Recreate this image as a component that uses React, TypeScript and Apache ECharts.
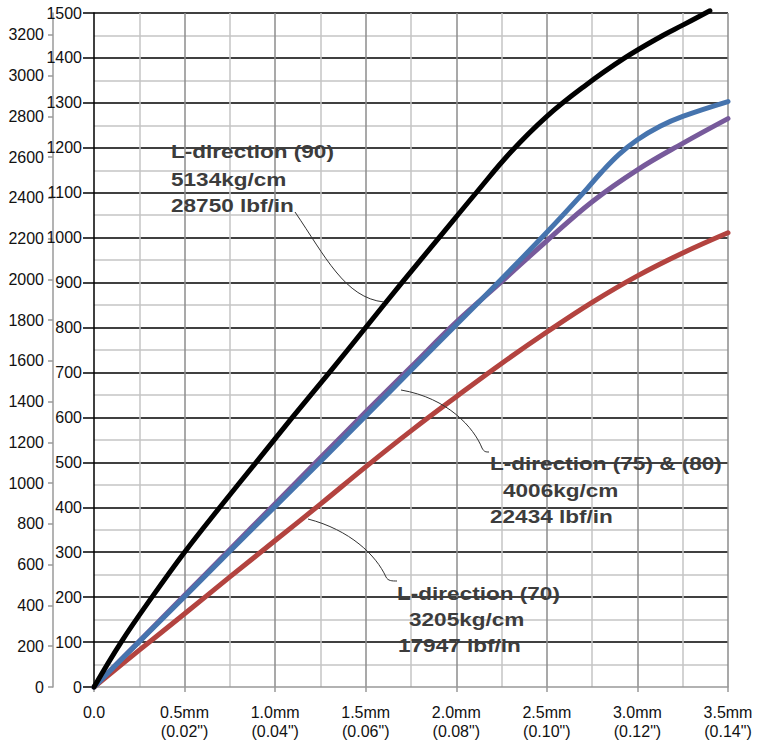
import React, { useEffect, useRef } from 'react';
import * as echarts from 'echarts';

// ---- data ----
const xMaxMm = 3.5;
const kgMax = 1500;
const lbPerKg = 2.20462;

const xTickMm = [0, 0.5, 1.0, 1.5, 2.0, 2.5, 3.0, 3.5];
const xTickLabels = ['0.0', '0.5mm\n(0.02")', '1.0mm\n(0.04")', '1.5mm\n(0.06")', '2.0mm\n(0.08")', '2.5mm\n(0.10")', '3.0mm\n(0.12")', '3.5mm\n(0.14")'];
const lbTicks = [0, 200, 400, 600, 800, 1000, 1200, 1400, 1600, 1800, 2000, 2200, 2400, 2600, 2800, 3000, 3200];

const l90Mm = [0, 0.15, 0.32, 0.5, 0.695, 0.895, 1.095, 1.30, 1.50, 1.70, 1.905, 2.11, 2.30, 2.50, 2.70, 2.93, 3.14, 3.25, 3.40];
const l90Kg = [0, 100, 200, 300, 400, 500, 600, 700, 800, 900, 1000, 1100, 1190, 1270, 1335, 1400, 1450, 1473, 1505];

const l80Mm = [0, 0.25, 0.5, 0.75, 1.0, 1.25, 1.5, 1.75, 2.0, 2.25, 2.5, 2.7, 2.8, 2.9, 3.0, 3.125, 3.25, 3.5];
const l80Kg = [0, 101, 201, 302, 402, 502, 603, 705, 806, 908, 1012, 1099, 1145, 1186, 1218, 1248, 1270, 1303];

const l75Mm = [0, 0.25, 0.5, 0.75, 1.0, 1.25, 1.5, 1.75, 2.0, 2.25, 2.5, 2.75, 3.0, 3.25, 3.5];
const l75Kg = [0, 102, 204, 306, 408, 510, 612, 712, 812, 902, 993, 1080, 1151, 1210, 1265];

const l70Mm = [0, 0.25, 0.5, 0.75, 1.0, 1.25, 1.5, 1.75, 2.0, 2.25, 2.5, 2.75, 3.0, 3.25, 3.5];
const l70Kg = [0, 82, 163, 245, 326, 407, 490, 570, 646, 720, 790, 856, 915, 966, 1011];

const annotationLines = [
  ['L-direction (90)', '5134kg/cm', '28750 lbf/in'],
  ['L-direction (75) & (80)', '4006kg/cm', '22434 lbf/in'],
  ['L-direction (70)', '3205kg/cm', '17947 lbf/in'],
];

const zip = (xs: number[], ys: number[]) => xs.map((x, i) => [x, ys[i]]);

const NARROW = '"Liberation Sans Narrow", "Arial Narrow", "Liberation Sans", Arial, sans-serif';
const SANS = '"Liberation Sans", Arial, sans-serif';

export default function App() {
  const ref = useRef<HTMLDivElement>(null);

  useEffect(() => {
    if (!ref.current) return;
    const chart = echarts.init(ref.current, undefined, { renderer: 'svg' });

    const textPos = [
      [[171, 151.5], [171, 179], [171, 205]],
      [[490, 463.5], [503, 490], [490, 516.5]],
      [[397, 593], [409, 619], [398, 645]],
    ];
    const texts: any[] = [];
    annotationLines.forEach((block, bi) => {
      block.forEach((t, li) => {
        texts.push({
          type: 'text',
          x: textPos[bi][li][0],
          y: textPos[bi][li][1],
          scaleX: 1.22,
          z: 100,
          style: {
            text: t,
            fontSize: 18.5,
            fontWeight: 'bold',
            fontFamily: SANS,
            fill: '#3c3c3c',
            align: 'left',
            verticalAlign: 'middle',
          },
        });
      });
    });
    const leaderStyle = { stroke: '#333', lineWidth: 1, fill: null };
    const leaders: any[] = [
      { type: 'bezierCurve', z: 100, shape: { x1: 295, y1: 212, cpx1: 325, cpy1: 256, cpx2: 345, cpy2: 298, x2: 384, y2: 302 }, style: leaderStyle },
      { type: 'bezierCurve', z: 100, shape: { x1: 401, y1: 390, cpx1: 448, cpy1: 398, cpx2: 474, cpy2: 428, x2: 482, y2: 448 }, style: leaderStyle },
      { type: 'bezierCurve', z: 100, shape: { x1: 482, y1: 448, cpx1: 484, cpy1: 452, cpx2: 486, cpy2: 452, x2: 489, y2: 452 }, style: leaderStyle },
      { type: 'bezierCurve', z: 100, shape: { x1: 308, y1: 519, cpx1: 350, cpy1: 530, cpx2: 376, cpy2: 555, x2: 386, y2: 577 }, style: leaderStyle },
      { type: 'bezierCurve', z: 100, shape: { x1: 386, y1: 577, cpx1: 388, cpy1: 581, cpx2: 392, cpy2: 581, x2: 397, y2: 581 }, style: leaderStyle },
    ];

    const mkSeries = (name: string, xs: number[], ys: number[], color: string, z: number) => ({
      name,
      type: 'line',
      data: zip(xs, ys),
      yAxisIndex: 0,
      symbol: 'none',
      smooth: 0.4,
      clip: false,
      z,
      lineStyle: { color, width: 5, cap: 'round', join: 'round' },
    });

    chart.setOption({
      animation: false,
      backgroundColor: '#ffffff',
      grid: { left: 94, right: 40, top: 13, bottom: 58 },
      xAxis: {
        type: 'value',
        min: 0,
        max: xMaxMm,
        interval: 0.5,
        axisLine: { show: true, onZero: false, lineStyle: { color: '#999', width: 1.5 } },
        axisTick: { show: true, length: 5, lineStyle: { color: '#999', width: 1.5 } },
        axisLabel: {
          margin: 16,
          fontFamily: NARROW,
          fontSize: 16,
          lineHeight: 19,
          color: '#111',
          formatter: (v: number) => {
            const i = xTickMm.findIndex((t) => Math.abs(t - v) < 1e-6);
            return i >= 0 ? xTickLabels[i] : '';
          },
        },
        splitLine: { show: true, showMinLine: false, lineStyle: { color: '#8c8c8c', width: 1.5 } },
        minorTick: { show: false, splitNumber: 2 },
        minorSplitLine: { show: true, lineStyle: { color: '#c4c4c4', width: 1.5 } },
      },
      yAxis: [
        {
          type: 'value',
          position: 'left',
          min: 0,
          max: kgMax,
          interval: 100,
          axisLine: { show: true, lineStyle: { color: '#000', width: 1.5 } },
          axisTick: { show: true, length: 11, lineStyle: { color: '#000', width: 1.5 } },
          axisLabel: { margin: 12, fontFamily: NARROW, fontSize: 16, color: '#111', formatter: (v: number) => String(Math.round(v)) },
          splitLine: { show: true, showMinLine: false, lineStyle: { color: '#000', width: 1.5 } },
          minorTick: { show: false, splitNumber: 2 },
          minorSplitLine: { show: true, lineStyle: { color: '#c4c4c4', width: 1.5 } },
        },
        {
          type: 'value',
          position: 'left',
          offset: 41,
          min: 0,
          max: kgMax * lbPerKg,
          interval: 200,
          axisLine: { show: true, lineStyle: { color: '#9a9a9a', width: 1.5 } },
          axisTick: { show: true, length: 5, customValues: lbTicks, lineStyle: { color: '#9a9a9a', width: 1.5 } },
          axisLabel: { margin: 9, customValues: lbTicks, fontFamily: NARROW, fontSize: 16, color: '#111', formatter: (v: number) => String(Math.round(v)) },
          splitLine: { show: false },
        },
      ],
      series: [
        mkSeries('L-direction (70)', l70Mm, l70Kg, '#b3433f', 2),
        mkSeries('L-direction (75)', l75Mm, l75Kg, '#775a9b', 3),
        mkSeries('L-direction (80)', l80Mm, l80Kg, '#4674ae', 4),
        mkSeries('L-direction (90)', l90Mm, l90Kg, '#000000', 5),
      ],
      graphic: [...leaders, ...texts],
    });

    return () => chart.dispose();
  }, []);

  return (
    <div
      ref={ref}
      style={{ position: 'absolute', left: 0, top: 0, width: 768, height: 745, background: '#fff' }}
    />
  );
}
